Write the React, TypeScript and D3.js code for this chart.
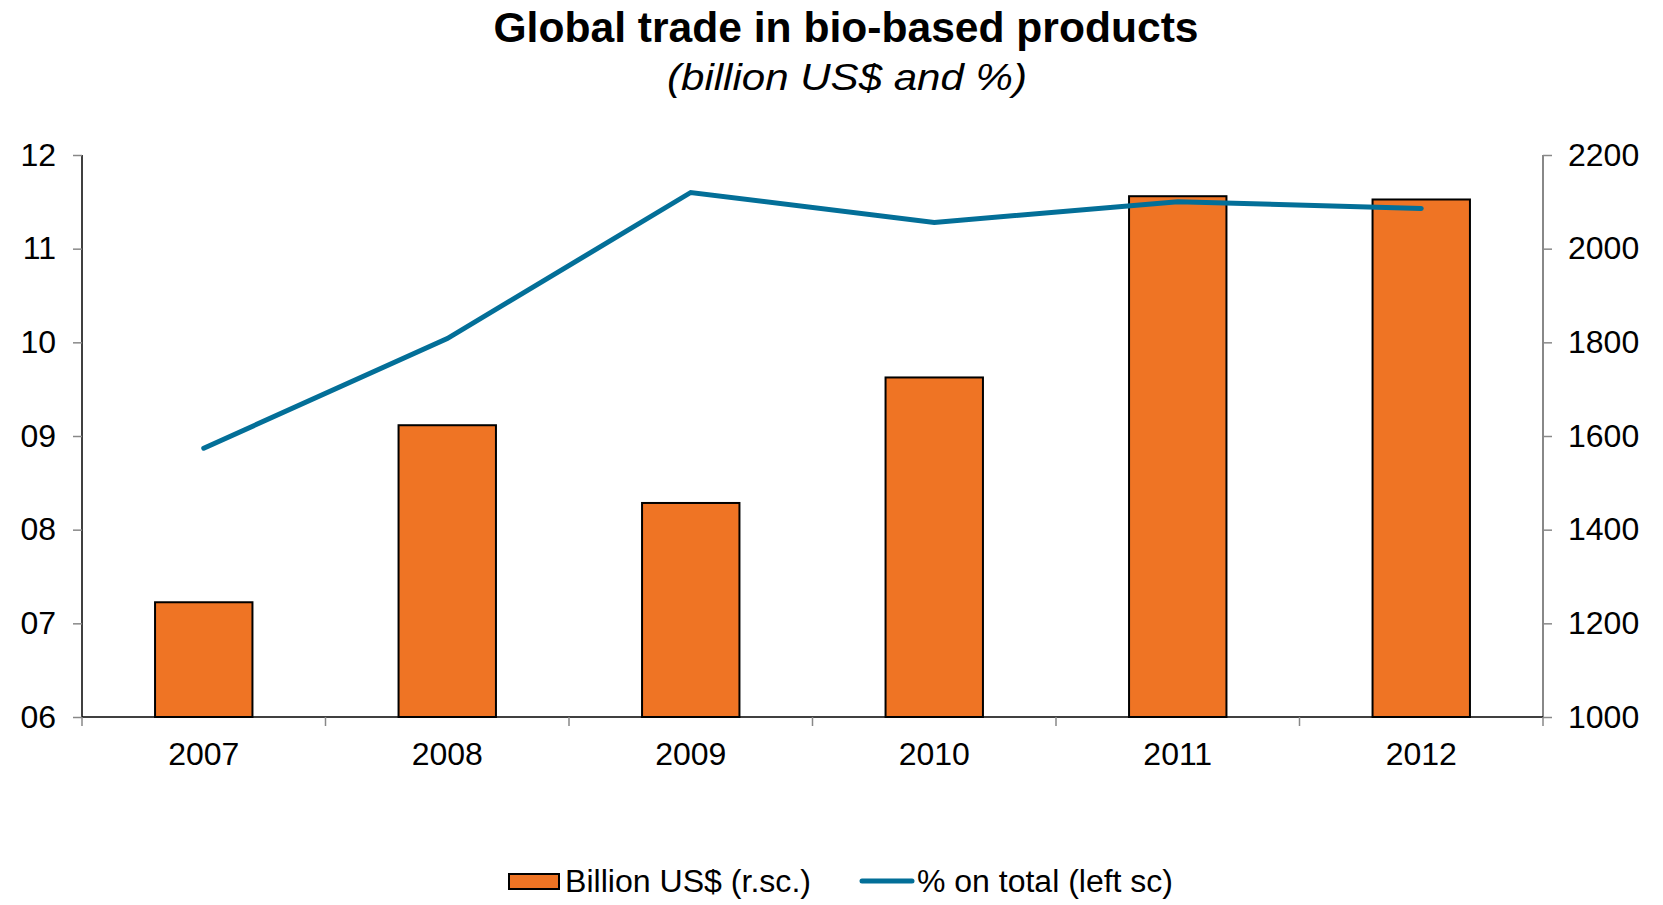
import * as d3 from 'd3';
import React, { useEffect } from 'react';

const years = ['2007', '2008', '2009', '2010', '2011', '2012'];
// bars, right scale (billion US$)
const billionUsd = [1245, 1623, 1457, 1725, 2112, 2105];
// line, left scale (% on total)
const pctOnTotal = [8.87, 10.04, 11.6, 11.28, 11.5, 11.43];

const leftTicks = [6, 7, 8, 9, 10, 11, 12];
const rightTicks = [1000, 1200, 1400, 1600, 1800, 2000, 2200];

const ORANGE = '#EF7424';
const BLUE = '#036F98';
const FONT = '"Liberation Sans", Arial, Helvetica, sans-serif';

export default function App() {
  const ref = React.useRef<HTMLDivElement>(null);

  useEffect(() => {
    if (!ref.current) return;
    ref.current.innerHTML = '';

    const W = 1663;
    const H = 905;
    const margin = { top: 155, right: 120, bottom: 188, left: 82 };
    const width = W - margin.left - margin.right;
    const height = H - margin.top - margin.bottom;

    const root = d3
      .select(ref.current)
      .append('svg')
      .attr('width', W)
      .attr('height', H)
      .style('position', 'absolute')
      .style('left', 0)
      .style('top', 0)
      .style('font-family', FONT);

    // Title
    root
      .append('text')
      .attr('x', 846)
      .attr('y', 42)
      .attr('text-anchor', 'middle')
      .attr('font-size', 42)
      .attr('font-weight', 'bold')
      .attr('textLength', 705)
      .attr('lengthAdjust', 'spacingAndGlyphs')
      .text('Global trade in bio-based products');
    root
      .append('text')
      .attr('x', 847)
      .attr('y', 90)
      .attr('text-anchor', 'middle')
      .attr('font-size', 37)
      .attr('font-style', 'italic')
      .attr('textLength', 360)
      .attr('lengthAdjust', 'spacingAndGlyphs')
      .text('(billion US$ and %)');

    const svg = root
      .append('g')
      .attr('transform', `translate(${margin.left},${margin.top})`);

    const x = d3.scaleBand().domain(years).range([0, width]).paddingInner(0.6).paddingOuter(0.3);
    const xOuter = d3.scaleBand().domain(years).range([0, width]);
    const yLeft = d3.scaleLinear().domain([6, 12]).range([height, 0]);
    const yRight = d3.scaleLinear().domain([1000, 2200]).range([height, 0]);

    // Bars
    svg
      .selectAll('rect.bar')
      .data(years)
      .enter()
      .append('rect')
      .attr('class', 'bar')
      .attr('x', d => x(d) as number)
      .attr('y', (d, i) => yRight(billionUsd[i]))
      .attr('width', x.bandwidth())
      .attr('height', (d, i) => height - yRight(billionUsd[i]))
      .attr('fill', ORANGE)
      .attr('stroke', '#000')
      .attr('stroke-width', 2);

    // Line
    svg
      .append('path')
      .datum(pctOnTotal)
      .attr('fill', 'none')
      .attr('stroke', BLUE)
      .attr('stroke-width', 5)
      .attr('stroke-linecap', 'round')
      .attr(
        'd',
        d3
          .line<number>()
          .x((d, i) => (xOuter(years[i]) as number) + xOuter.bandwidth() / 2)
          .y(d => yLeft(d))
      );

    // Left axis
    const left = svg
      .append('g')
      .call(
        d3
          .axisLeft(yLeft)
          .tickValues(leftTicks)
          .tickSize(9)
          .tickPadding(17)
          .tickFormat(d => d3.format('02d')(d as number))
      );
    left.select('.domain').attr('stroke', '#000').attr('stroke-width', 1.5).attr('d', `M0,0V${height}`);
    left.selectAll('.tick line').attr('stroke', '#888').attr('stroke-width', 1.5);
    left.selectAll('.tick text').attr('font-size', 32).attr('font-family', FONT).attr('fill', '#000');

    // Right axis
    const right = svg
      .append('g')
      .attr('transform', `translate(${width},0)`)
      .call(d3.axisRight(yRight).tickValues(rightTicks).tickSize(9).tickPadding(16).tickFormat(d3.format('d')));
    right.select('.domain').attr('stroke', '#888').attr('stroke-width', 2).attr('d', `M0,0V${height}`);
    right.selectAll('.tick line').attr('stroke', '#888').attr('stroke-width', 1.5);
    right.selectAll('.tick text').attr('font-size', 32).attr('font-family', FONT).attr('fill', '#000');

    // Bottom axis
    const bottom = svg
      .append('g')
      .attr('transform', `translate(0,${height})`)
      .call(d3.axisBottom(xOuter).tickSize(0).tickPadding(25));
    bottom.select('.domain').attr('stroke', '#000').attr('stroke-width', 1.5).attr('d', `M0,0H${width}`);
    bottom.selectAll('.tick text').attr('font-size', 32).attr('font-family', FONT).attr('fill', '#000');
    // category separators
    const edges = years.map(d => xOuter(d) as number).concat([width]);
    bottom
      .selectAll('line.sep')
      .data(edges)
      .enter()
      .append('line')
      .attr('class', 'sep')
      .attr('x1', d => d)
      .attr('x2', d => d)
      .attr('y1', 0)
      .attr('y2', 9)
      .attr('stroke', '#888')
      .attr('stroke-width', 1.5);

    // Legend
    const legend = root.append('g');
    legend
      .append('rect')
      .attr('x', 509)
      .attr('y', 874)
      .attr('width', 50)
      .attr('height', 15)
      .attr('fill', ORANGE)
      .attr('stroke', '#000')
      .attr('stroke-width', 2);
    legend
      .append('text')
      .attr('x', 565)
      .attr('y', 892)
      .attr('font-size', 31)
      .attr('textLength', 246)
      .attr('lengthAdjust', 'spacingAndGlyphs')
      .text('Billion US$ (r.sc.)');
    legend
      .append('line')
      .attr('x1', 862)
      .attr('x2', 912)
      .attr('y1', 881)
      .attr('y2', 881)
      .attr('stroke', BLUE)
      .attr('stroke-width', 5)
      .attr('stroke-linecap', 'round');
    legend
      .append('text')
      .attr('x', 917)
      .attr('y', 892)
      .attr('font-size', 31)
      .attr('textLength', 256)
      .attr('lengthAdjust', 'spacingAndGlyphs')
      .text('% on total (left sc)');
  }, []);

  return <div ref={ref}></div>;
}
